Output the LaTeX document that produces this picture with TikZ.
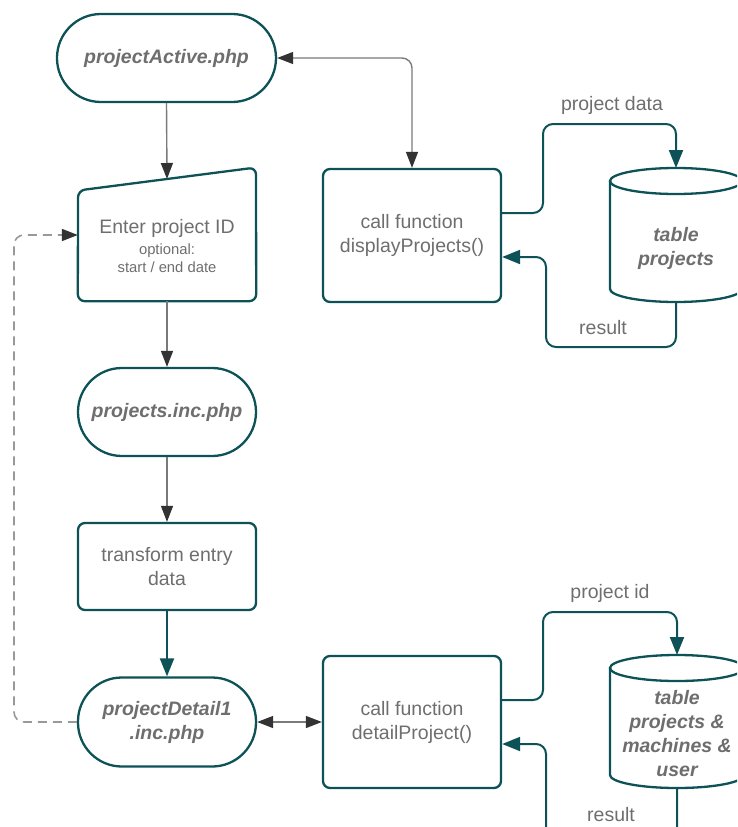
\documentclass[tikz,border=0pt]{standalone}
\usepackage{fontspec}
\setmainfont{Liberation Sans}
\usetikzlibrary{arrows.meta}

\definecolor{flowteal}{HTML}{0C5257}
\definecolor{txtgray}{HTML}{6E6E6E}
\definecolor{wiregray}{HTML}{7A7A7A}
\definecolor{tipgray}{HTML}{333333}
\definecolor{dashgray}{HTML}{999999}

\tikzset{
  x=1pt, y=-1pt,
  every node/.style={text=txtgray, align=center, inner sep=0pt,
    font=\fontsize{19.5}{24}\selectfont},
  term/.style={draw=flowteal, line width=2.3pt, rectangle,
    rounded corners=43.9pt, minimum width=178pt, minimum height=88pt,
    font=\fontsize{19.5}{24}\selectfont\bfseries\itshape},
  proc/.style={draw=flowteal, line width=2.3pt, rectangle,
    rounded corners=7pt, minimum width=178pt},
  shapeline/.style={draw=flowteal, line width=2.3pt},
  cyltext/.style={font=\fontsize{19.5}{24}\selectfont\bfseries\itshape},
  flowarrow/.style={draw=flowteal, line width=2pt, rounded corners=10pt,
    -{Triangle[length=18pt,width=14pt,color=flowteal]}},
  wirearrow/.style={draw=wiregray, line width=1.4pt, rounded corners=10pt,
    -{Triangle[length=16pt,width=12pt,color=tipgray]}},
  wirebiarrow/.style={draw=wiregray, line width=1.4pt, rounded corners=10pt,
    {Triangle[length=16pt,width=12pt,color=tipgray]}-{Triangle[length=16pt,width=12pt,color=tipgray]}},
  backloop/.style={draw=dashgray, line width=1.6pt, rounded corners=10pt,
    dash pattern=on 9pt off 6pt,
    -{Triangle[length=16pt,width=12pt,color=tipgray]}},
  edgelabel/.style={font=\fontsize{19.5}{24}\selectfont}
}

\begin{document}
\begin{tikzpicture}
\clip (0,0) rectangle (737,827);

% ---- left column ----
\node[term, minimum width=219pt] (pa) at (166.5,58) {projectActive.php};

% manual input: box with a slanted top edge
\node[minimum width=178pt, minimum height=111pt] (enter) at (167,245.5) {};
\node[font=\fontsize{14.8}{18}\selectfont] (entertext) at (167,246.5)
  {{\fontsize{19.5}{21}\selectfont Enter project ID}\\[3pt]optional:\\start / end date};
\draw[shapeline, rounded corners=7pt] (enter.south) -- (enter.south west) -- (78,190.5)
  -- (256,167.5) -- (enter.south east) -- cycle;
\coordinate (entertop) at (167,179);

\node[term] (pi) at (167,412) {projects.inc.php};
\node[proc, minimum height=87pt] (tr) at (167,566.5) {transform entry\\data};
\node[term, minimum height=89pt] (pd) at (167,722) {projectDetail1\\.inc.php};

% ---- function calls ----
\node[proc, minimum height=133pt] (dp) at (412,235.5) {call function\\displayProjects()};
\node[proc, minimum height=132pt] (dt) at (412,722) {call function\\detailProject()};

% ---- database tables ----
\draw[shapeline, fill=white] (610,181) -- (610,289)
  arc[start angle=180, end angle=360, x radius=66pt, y radius=13pt] -- (742,181);
\draw[shapeline] (676,181) ellipse[x radius=66pt, y radius=13pt];
\node[cyltext] (tp) at (676,248) {table\\projects};
\coordinate (tptop) at (676,168);
\coordinate (tpbot) at (676,302);

\draw[shapeline, fill=white] (610,668) -- (610,775)
  arc[start angle=180, end angle=360, x radius=67pt, y radius=13pt] -- (744,668);
\draw[shapeline] (677,668) ellipse[x radius=67pt, y radius=13pt];
\node[cyltext] (tm) at (677,733.5) {table\\projects \&\\machines \&\\user};
\coordinate (tmtop) at (677,655);
\coordinate (tmbot) at (677,788);

% ---- main flow ----
\draw[wirearrow] (pa.south) -- (entertop);
\draw[wirearrow] (enter.south) -- (pi.north);
\draw[wirearrow] (pi.south) -- (tr.north);
\draw[flowarrow] (tr.south) -- (pd.north);
\draw[wirebiarrow] (pa.east) -- (412,58) -- (dp.north);
\draw[wirebiarrow] (pd.east) -- (dt.west);
\draw[backloop] (pd.west) -- (14,722) -- (14,235) -- ([yshift=10.5pt]enter.west);

% ---- table access ----
\draw[flowarrow] ([yshift=22.5pt]dp.east) -- (543,213) -- (543,124) -- (676,124) -- (tptop);
\draw[flowarrow] (tpbot) -- (676,347) -- (546,347) -- (546,257) -- ([yshift=-21.5pt]dp.east);
\node[edgelabel] (lpd) at (612,105) {project data};
\node[edgelabel] (lr1) at (603,328) {result};

\draw[flowarrow] ([yshift=22pt]dt.east) -- (543,700) -- (543,612) -- (677,612) -- (tmtop);
\draw[flowarrow] (tmbot) -- (677,845) -- (546,845) -- (546,744) -- ([yshift=-22pt]dt.east);
\node[edgelabel] (lpid) at (610,593) {project id};
\node[edgelabel] (lr2) at (611,815) {result};
\end{tikzpicture}
\end{document}
